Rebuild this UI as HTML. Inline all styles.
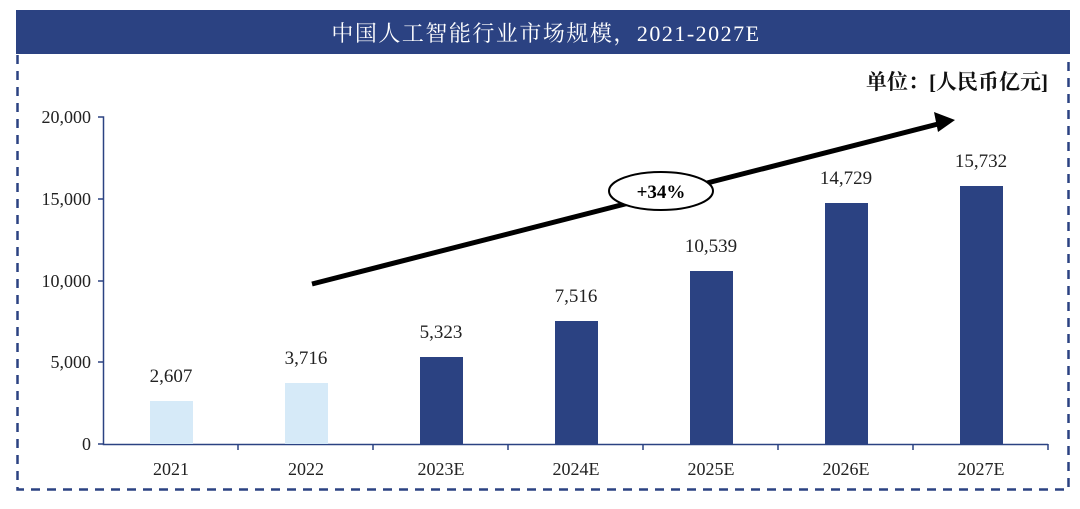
<!DOCTYPE html>
<html><head><meta charset="utf-8"><style>
html,body{margin:0;padding:0;background:#fff;}
</style></head><body>
<svg width="1080" height="504" xmlns="http://www.w3.org/2000/svg" font-family="'Liberation Serif','Noto Serif CJK SC',serif">
<rect x="16" y="10" width="1054" height="44" fill="#2b4282"/>
<text x="546" y="41" fill="#fff" font-size="22" letter-spacing="1.5" text-anchor="middle">中国人工智能行业市场规模，2021-2027E</text>
<path d="M17.5 55 V489.5 H1068.5 V55" fill="none" stroke="#2b4282" stroke-width="2.5" stroke-dasharray="9,7"/>
<text x="1048" y="89" font-size="21" font-weight="bold" text-anchor="end" fill="#111">单位：[人民币亿元]</text>
<g stroke="#2b4282" stroke-width="1.5" fill="none">
<path d="M98 117 H103.5 V444.5 H1048"/>
<path d="M98 199 H103 M98 281 H103 M98 362 H103 M98 444 H103"/>
<path d="M238 444 V450 M373 444 V450 M508 444 V450 M643 444 V450 M778 444 V450 M913 444 V450 M1048 444 V450"/>
</g>
<g font-size="18" fill="#222" text-anchor="end">
<text x="91" y="123">20,000</text><text x="91" y="205">15,000</text><text x="91" y="287">10,000</text><text x="91" y="368">5,000</text><text x="91" y="450">0</text>
</g>
<g fill="#2b4282">
<rect x="150" y="401" width="43" height="43" fill="#d6eaf8"/>
<rect x="285" y="383" width="43" height="61" fill="#d6eaf8"/>
<rect x="420" y="357" width="43" height="87"/>
<rect x="555" y="321" width="43" height="123"/>
<rect x="690" y="271" width="43" height="173"/>
<rect x="825" y="203" width="43" height="241"/>
<rect x="960" y="186" width="43" height="258"/>
</g>
<g font-size="19" fill="#222" text-anchor="middle">
<text x="171" y="382">2,607</text><text x="306" y="364">3,716</text><text x="441" y="338">5,323</text><text x="576" y="302">7,516</text><text x="711" y="252">10,539</text><text x="846" y="184">14,729</text><text x="981" y="167">15,732</text>
</g>
<g font-size="18" fill="#222" text-anchor="middle">
<text x="171" y="475">2021</text><text x="306" y="475">2022</text><text x="441" y="475">2023E</text><text x="576" y="475">2024E</text><text x="711" y="475">2025E</text><text x="846" y="475">2026E</text><text x="981" y="475">2027E</text>
</g>
<line x1="312" y1="284" x2="938" y2="124" stroke="#000" stroke-width="5"/>
<polygon points="955,120 934,112 938,132" fill="#000"/>
<ellipse cx="661" cy="191" rx="52" ry="19" fill="#fff" stroke="#000" stroke-width="2"/>
<text x="661" y="198" font-size="19" font-weight="bold" text-anchor="middle" fill="#000">+34%</text>
</svg>
</body></html>
